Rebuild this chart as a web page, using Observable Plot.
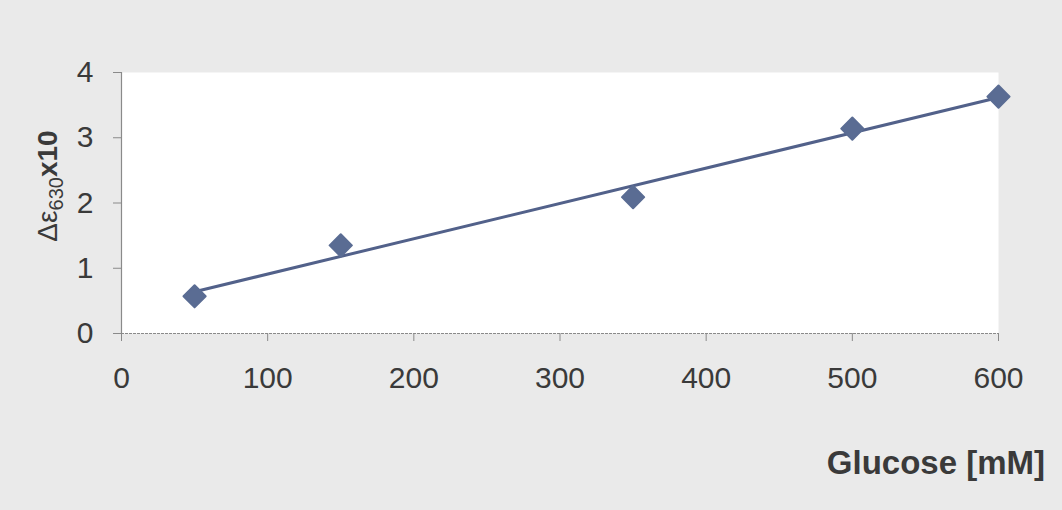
<!DOCTYPE html>
<html>
<head>
<meta charset="utf-8">
<script src="https://cdn.jsdelivr.net/npm/d3@7"></script>
<script src="https://cdn.jsdelivr.net/npm/@observablehq/plot@0.6"></script>
<style>
  html, body { margin: 0; padding: 0; background: #eaeaea; }
  #chart svg { display: block; }
</style>
</head>
<body>
<div id="chart"></div>
<script>
// Glucose concentration (mM) and measured Δε630 ×10
const glucose = [50, 150, 350, 500, 600];
const deltaEps = [0.57, 1.35, 2.09, 3.14, 3.63];
const xTicks = [0, 100, 200, 300, 400, 500, 600];
const yTicks = [0, 1, 2, 3, 4];

const data = glucose.map((g, i) => ({ glucose: g, value: deltaEps[i] }));

const W = 1062, H = 510;
const axisGray = "#8a8a8a";
const markColor = "#5a6c93";
const lineColor = "#52618a";
const textColor = "#3a3a3a";

const chart = Plot.plot({
  width: W,
  height: H,
  marginLeft: 121,
  marginRight: 64,
  marginTop: 72,
  marginBottom: 177,
  style: { background: "#eaeaea", fontFamily: "'Liberation Sans', Arial, sans-serif", color: textColor },
  x: { domain: [0, 600] },
  y: { domain: [0, 4] },
  marks: [
    Plot.frame({ fill: "white", stroke: "none" }),
    Plot.axisY({ ticks: yTicks, tickSize: 8, tickPadding: 20, fontSize: 30, stroke: axisGray, label: null, tickFormat: d3.format("d") }),
    Plot.axisX({ ticks: xTicks, tickSize: 8, tickPadding: 25, fontSize: 30, stroke: axisGray, label: null, tickFormat: d3.format("d") }),
    Plot.ruleX([0], { stroke: axisGray, strokeWidth: 1.2 }),
    Plot.ruleY([0], { stroke: axisGray, strokeWidth: 1.2, strokeDasharray: "3,1" }),
    Plot.linearRegressionY(data, { x: "glucose", y: "value", ci: 0, stroke: lineColor, strokeWidth: 3 }),
    Plot.dot(data, { x: "glucose", y: "value", symbol: "diamond2", r: 10, fill: markColor, stroke: markColor, strokeWidth: 2, strokeLinejoin: "round" })
  ]
});

const svg = d3.select(chart);

// Y-axis title: Δε with subscript 630, then bold x10
const yt = svg.append("text")
  .attr("transform", "translate(57,186) rotate(-90)")
  .attr("text-anchor", "middle")
  .attr("font-family", "'Liberation Sans', Arial, sans-serif")
  .attr("font-size", 28)
  .attr("fill", textColor);
yt.append("tspan").text("Δε");
yt.append("tspan").attr("font-size", 20).attr("dy", 6).text("630");
yt.append("tspan").attr("dy", -6).attr("font-weight", "bold").text("x10");

// X-axis title
svg.append("text")
  .attr("x", 1045)
  .attr("y", 474)
  .attr("text-anchor", "end")
  .attr("font-family", "'Liberation Sans', Arial, sans-serif")
  .attr("font-size", 33)
  .attr("font-weight", "bold")
  .attr("fill", textColor)
  .text("Glucose [mM]");

document.getElementById("chart").appendChild(chart);
</script>
</body>
</html>
